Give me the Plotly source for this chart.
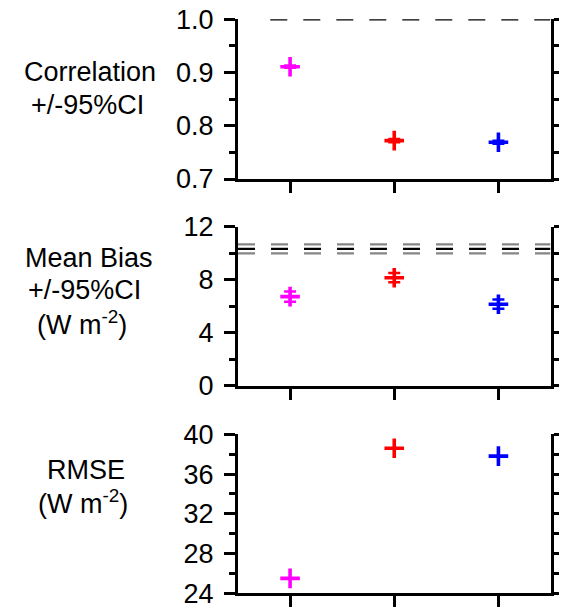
import plotly.graph_objects as go

# x positions of the three series and their colours
x_pos = [1, 2, 3]
colors = ["#FF00FF", "#FF0000", "#0000FF"]

# panel values
corr = [0.911, 0.772, 0.769]
corr_ci = [0.002, 0.003, 0.003]
bias = [6.72, 8.15, 6.15]
bias_ci = [0.38, 0.35, 0.35]
rmse = [25.5, 38.6, 37.8]

# reference lines
corr_ref = 1.0
bias_ref = 10.32
bias_ref_band = [9.99, 10.67]

# axis ticks
corr_ticks = [0.7, 0.8, 0.9, 1.0]
corr_minor = [0.75, 0.85, 0.95]
bias_ticks = [0, 4, 8, 12]
bias_minor = [2, 6, 10]
rmse_ticks = [24, 28, 32, 36, 40]
rmse_minor = [26, 30, 34, 38]

W, H = 564, 607
FONT = "Liberation Sans, Arial, sans-serif"


def py(px):
    return 1 - px / H


x_dom = [238.0 / W, 550.5 / W]
panels = [
    dict(dom=[py(179.0), py(19.3)], rng=[0.7, 1.0], ticks=corr_ticks, minor=corr_minor,
         fmt=".1f"),
    dict(dom=[py(385.7), py(226.7)], rng=[0, 12], ticks=bias_ticks, minor=bias_minor,
         fmt="d"),
    dict(dom=[py(593.3), py(434.3)], rng=[24, 40], ticks=rmse_ticks, minor=rmse_minor,
         fmt="d"),
]

fig = go.Figure()

series = [
    (corr, corr_ci),
    (bias, bias_ci),
    (rmse, None),
]

for p, (vals, ci) in enumerate(series, start=1):
    xa = "x" if p == 1 else f"x{p}"
    ya = "y" if p == 1 else f"y{p}"
    for i, c in enumerate(colors):
        err = None
        if ci is not None:
            err = dict(type="data", array=[ci[i]], visible=True, color=c,
                       thickness=2.5, width=6)
        fig.add_trace(go.Scatter(
            x=[x_pos[i]], y=[vals[i]], mode="markers",
            marker=dict(symbol="cross-thin", size=14, color=c,
                        line=dict(color=c, width=3.6)),
            error_y=err, xaxis=xa, yaxis=ya, showlegend=False,
        ))
    # placeholder trace so the right-hand axis of each panel is drawn
    fig.add_trace(go.Scatter(x=[None], y=[None], xaxis=xa, yaxis=f"y{p + 3}",
                             showlegend=False, hoverinfo="skip"))

layout = dict(
    template="none",
    width=W, height=H,
    margin=dict(l=0, r=0, t=0, b=0, pad=0),
    paper_bgcolor="white", plot_bgcolor="white",
    font=dict(family=FONT, size=27, color="black"),
    showlegend=False,
)

for p, cfg in enumerate(panels, start=1):
    xk = "xaxis" if p == 1 else f"xaxis{p}"
    yk = "yaxis" if p == 1 else f"yaxis{p}"
    ya = "y" if p == 1 else f"y{p}"
    xa = "x" if p == 1 else f"x{p}"
    layout[xk] = dict(
        domain=x_dom, anchor=ya, range=[0.5, 3.5], automargin=False,
        showline=True, linewidth=3, linecolor="black",
        ticks="outside", ticklen=11, tickwidth=3, tickcolor="black",
        tickvals=x_pos, showticklabels=False,
        showgrid=False, zeroline=False, fixedrange=True,
    )
    layout[yk] = dict(
        domain=cfg["dom"], anchor=xa, range=cfg["rng"], automargin=False,
        showline=True, linewidth=3, linecolor="black",
        ticks="outside", ticklen=11, tickwidth=3, tickcolor="black",
        tickvals=cfg["ticks"], tickformat=cfg["fmt"],
        tickfont=dict(family=FONT, size=27, color="black"),
        ticklabeloverflow="allow", ticklabelstandoff=5,
        minor=dict(tickvals=cfg["minor"], ticks="outside", ticklen=6,
                   tickwidth=3, tickcolor="black", showgrid=False),
        showgrid=False, zeroline=False, fixedrange=True,
    )
    layout[f"yaxis{p + 3}"] = dict(
        overlaying=ya, anchor=xa, side="right", range=cfg["rng"],
        automargin=False,
        showline=True, linewidth=3, linecolor="black",
        ticks="outside", ticklen=5, tickwidth=3, tickcolor="black",
        tickvals=cfg["ticks"], showticklabels=False,
        minor=dict(tickvals=cfg["minor"], ticks="outside", ticklen=5,
                   tickwidth=3, tickcolor="black", showgrid=False),
        showgrid=False, zeroline=False, fixedrange=True,
    )

fig.update_layout(**layout)

# dashed reference lines
fig.add_shape(type="line", xref="x", yref="y", x0=0.81, x1=3.5,
              y0=corr_ref, y1=corr_ref,
              line=dict(color="black", width=2.2, dash="17px,16px"))
for yv in bias_ref_band:
    fig.add_shape(type="line", xref="x2", yref="y2", x0=0.5, x1=3.5,
                  y0=yv, y1=yv,
                  line=dict(color="#858585", width=2.2, dash="17px,16px"))
fig.add_shape(type="line", xref="x2", yref="y2", x0=0.5, x1=3.5,
              y0=bias_ref, y1=bias_ref,
              line=dict(color="black", width=2.2, dash="17px,16px"))

# panel titles on the left
titles = [
    ("Correlation", 89.5, 72),
    ("+/-95%CI", 87, 105),
    ("Mean Bias", 88.5, 258),
    ("+/-95%CI", 84, 290),
    ("(W m<sup>-2</sup>)", 81.5, 323),
    ("RMSE", 85.5, 470),
    ("(W m<sup>-2</sup>)", 82.5, 502),
]
for txt, xp, ypx in titles:
    fig.add_annotation(text=txt, xref="paper", yref="paper",
                       x=xp / W, y=py(ypx), xanchor="center", yanchor="middle",
                       showarrow=False,
                       font=dict(family=FONT, size=27, color="black"))

fig.write_html("out.html")
